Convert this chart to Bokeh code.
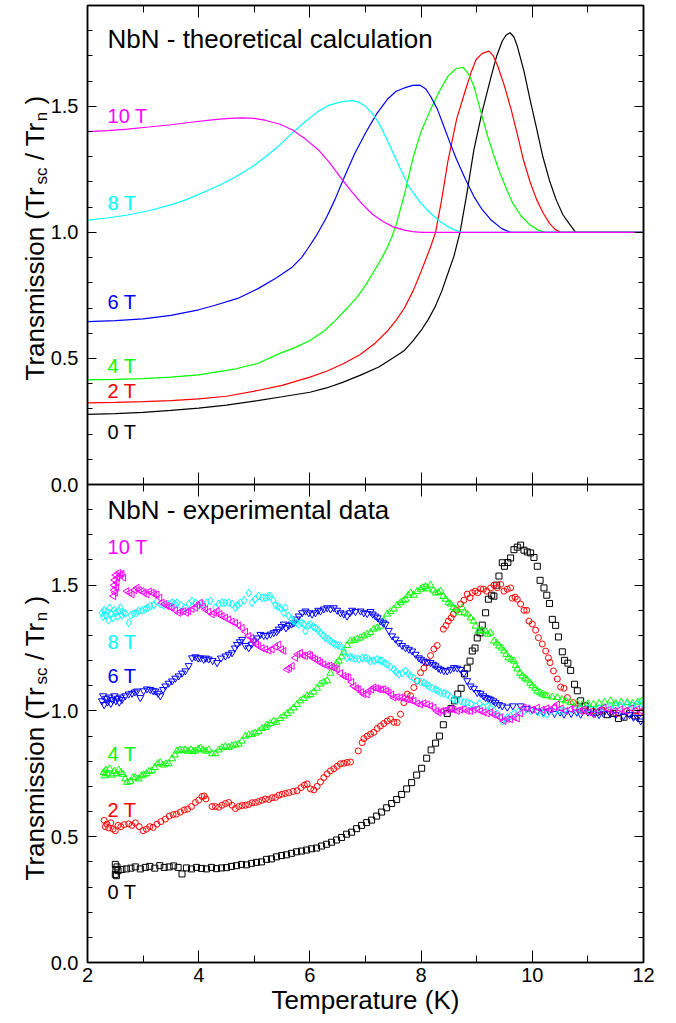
import math
from bokeh.plotting import figure
from bokeh.models import (Range1d, LinearAxis, SingleIntervalTicker,
                          PrintfTickFormatter, CustomJSTickFormatter, Label)
from bokeh.layouts import column
from bokeh.embed import file_html
from bokeh.resources import INLINE
from bokeh.core.properties import value

FONT = "Liberation Sans"

# ---------------- data: theoretical calculation (top panel) ----------------
th0_x = [2.0, 2.5, 3.0, 3.5, 4.0, 4.5, 5.06, 5.5, 6.0, 6.3, 6.6, 6.9, 7.24, 7.5, 7.7, 7.85, 8.0, 8.13, 8.25, 8.37,
         8.48, 8.59, 8.70, 8.82, 8.95, 9.1, 9.26, 9.36, 9.46, 9.53, 9.60, 9.67, 9.73, 9.85, 9.96, 10.08, 10.19,
         10.31, 10.43, 10.55, 10.66, 10.78, 11.0, 11.5, 12.0]
th0_y = [0.278, 0.281, 0.286, 0.294, 0.303, 0.315, 0.333, 0.348, 0.366, 0.383, 0.406, 0.433, 0.466, 0.503, 0.532,
         0.569, 0.611, 0.655, 0.704, 0.766, 0.836, 0.905, 1.0, 1.15, 1.328, 1.48, 1.619, 1.70, 1.759, 1.783,
         1.792, 1.775, 1.739, 1.64, 1.527, 1.41, 1.30, 1.205, 1.129, 1.07, 1.036, 1.0, 1.0, 1.0, 1.0]

th2_x = [2.0, 2.5, 3.0, 3.5, 4.0, 4.5, 5.06, 5.5, 6.0, 6.3, 6.6, 6.9, 7.16, 7.4, 7.55, 7.7, 7.86, 8.0, 8.17, 8.26,
         8.37, 8.48, 8.64, 8.80, 8.90, 8.99, 9.1, 9.22, 9.30, 9.38, 9.50, 9.62, 9.73, 9.84, 9.96, 10.08, 10.2,
         10.31, 10.41, 10.51, 11.0, 11.5, 12.0]
th2_y = [0.324, 0.326, 0.329, 0.333, 0.340, 0.350, 0.373, 0.393, 0.426, 0.449, 0.479, 0.515, 0.558, 0.61, 0.651,
         0.70, 0.770, 0.845, 0.942, 1.0, 1.13, 1.28, 1.45, 1.566, 1.635, 1.686, 1.71, 1.719, 1.70, 1.659, 1.58,
         1.487, 1.39, 1.288, 1.20, 1.129, 1.075, 1.036, 1.012, 1.0, 1.0, 1.0, 1.0]

th4_x = [2.0, 2.5, 3.0, 3.5, 4.0, 4.67, 5.06, 5.45, 5.75, 6.0, 6.25, 6.46, 6.65, 6.85, 7.0, 7.16, 7.28, 7.39, 7.47,
         7.55, 7.7, 7.86, 8.0, 8.17, 8.33, 8.48, 8.62, 8.75, 8.85, 8.95, 9.06, 9.18, 9.30, 9.42, 9.54, 9.65, 9.8,
         9.96, 10.1, 10.23, 11.0, 12.0]
th4_y = [0.415, 0.417, 0.420, 0.426, 0.435, 0.459, 0.48, 0.519, 0.545, 0.571, 0.608, 0.651, 0.695, 0.743, 0.79,
         0.849, 0.893, 0.94, 0.98, 1.03, 1.15, 1.30, 1.40, 1.487, 1.56, 1.619, 1.648, 1.655, 1.63, 1.580, 1.49,
         1.394, 1.31, 1.235, 1.17, 1.115, 1.065, 1.029, 1.01, 1.0, 1.0, 1.0]

th6_x = [2.0, 2.5, 3.0, 3.5, 4.0, 4.28, 4.7, 5.06, 5.4, 5.68, 5.85, 5.96, 6.11, 6.30, 6.45, 6.61, 6.8, 7.0, 7.2,
         7.39, 7.55, 7.70, 7.85, 7.98, 8.08, 8.17, 8.29, 8.41, 8.52, 8.64, 8.8, 8.95, 9.1, 9.26, 9.45, 9.61, 10.0,
         11.0, 12.0]
th6_y = [0.646, 0.650, 0.657, 0.671, 0.693, 0.710, 0.738, 0.776, 0.82, 0.862, 0.90, 0.935, 0.985, 1.06, 1.13,
         1.215, 1.31, 1.394, 1.47, 1.527, 1.56, 1.573, 1.583, 1.584, 1.57, 1.540, 1.49, 1.420, 1.355, 1.288, 1.21,
         1.142, 1.09, 1.049, 1.015, 1.0, 1.0, 1.0, 1.0]

th8_x = [2.0, 2.35, 2.72, 3.1, 3.5, 3.8, 4.12, 4.4, 4.67, 4.95, 5.21, 5.45, 5.68, 5.92, 6.15, 6.35, 6.54, 6.66,
         6.77, 6.88, 7.0, 7.12, 7.24, 7.35, 7.47, 7.62, 7.78, 7.98, 8.17, 8.33, 8.48, 8.62, 8.75, 10.0, 12.0]
th8_y = [1.049, 1.057, 1.069, 1.086, 1.109, 1.132, 1.162, 1.19, 1.221, 1.258, 1.301, 1.345, 1.394, 1.44, 1.480,
         1.505, 1.517, 1.521, 1.523, 1.517, 1.50, 1.473, 1.434, 1.385, 1.328, 1.255, 1.182, 1.12, 1.076, 1.045,
         1.023, 1.008, 1.0, 1.0, 1.0]

th10_x = [2.0, 2.36, 2.72, 3.1, 3.5, 3.9, 4.28, 4.55, 4.79, 5.0, 5.21, 5.45, 5.68, 5.92, 6.15, 6.35, 6.54, 6.74,
          6.93, 7.12, 7.32, 7.5, 7.70, 7.85, 8.01, 10.0, 12.0]
th10_y = [1.40, 1.404, 1.41, 1.418, 1.427, 1.438, 1.447, 1.452, 1.454, 1.452, 1.444, 1.43, 1.407, 1.37, 1.328,
          1.278, 1.221, 1.165, 1.115, 1.073, 1.042, 1.022, 1.009, 1.003, 1.0, 1.0, 1.0]

# ---------------- data: experimental (bottom panel), (T, transmission) ----------------
exp0 = [(2.50, 0.35), (2.50, 0.39), (2.51, 0.37), (2.52, 0.345), (2.53, 0.38), (2.55, 0.365), (2.62, 0.37),
        (2.70, 0.372), (2.78, 0.375), (2.86, 0.38), (2.95, 0.372), (3.04, 0.378), (3.12, 0.382), (3.21, 0.375),
        (3.30, 0.385), (3.38, 0.378), (3.47, 0.38), (3.55, 0.384), (3.63, 0.378), (3.70, 0.352), (3.78, 0.376),
        (3.87, 0.372), (3.96, 0.378), (4.05, 0.374), (4.14, 0.372), (4.23, 0.378), (4.32, 0.373), (4.41, 0.376),
        (4.50, 0.377), (4.59, 0.382), (4.68, 0.385), (4.77, 0.39), (4.86, 0.388), (4.95, 0.394), (5.04, 0.398),
        (5.13, 0.40), (5.22, 0.41), (5.31, 0.412), (5.40, 0.42), (5.49, 0.425), (5.58, 0.428), (5.67, 0.434),
        (5.76, 0.44), (5.85, 0.443), (5.94, 0.447), (6.03, 0.452), (6.12, 0.455), (6.21, 0.463), (6.30, 0.47),
        (6.39, 0.478), (6.48, 0.487), (6.57, 0.497), (6.66, 0.51), (6.75, 0.518), (6.84, 0.532), (6.93, 0.545),
        (7.02, 0.556), (7.11, 0.566), (7.20, 0.582), (7.29, 0.598), (7.38, 0.615), (7.47, 0.632), (7.56, 0.648),
        (7.65, 0.668), (7.74, 0.69), (7.83, 0.715), (7.92, 0.745), (8.01, 0.772), (8.10, 0.812), (8.18, 0.845),
        (8.26, 0.872), (8.33, 0.90), (8.40, 0.945), (8.47, 0.99), (8.54, 1.01), (8.60, 1.04), (8.66, 1.067),
        (8.72, 1.09), (8.78, 1.147), (8.83, 1.17), (8.88, 1.198), (8.92, 1.238), (8.97, 1.25), (9.01, 1.29),
        (9.06, 1.31), (9.10, 1.341), (9.16, 1.39), (9.21, 1.444), (9.27, 1.46), (9.31, 1.456), (9.36, 1.50),
        (9.40, 1.536), (9.46, 1.589), (9.50, 1.575), (9.56, 1.59), (9.61, 1.608), (9.67, 1.641), (9.73, 1.651),
        (9.79, 1.659), (9.85, 1.639), (9.91, 1.632), (9.97, 1.628), (10.03, 1.61), (10.09, 1.575), (10.14, 1.519),
        (10.21, 1.489), (10.26, 1.46), (10.31, 1.427), (10.36, 1.364), (10.42, 1.34), (10.47, 1.294),
        (10.54, 1.235), (10.58, 1.201), (10.64, 1.19), (10.69, 1.161), (10.76, 1.106), (10.81, 1.08),
        (10.87, 1.04), (10.95, 1.02), (11.05, 1.005), (11.15, 0.995), (11.25, 1.0), (11.35, 0.985),
        (11.45, 0.99), (11.55, 0.97), (11.65, 0.975), (11.75, 0.99), (11.85, 0.98), (11.95, 0.97)]

exp2 = [(2.30, 0.565), (2.32, 0.54), (2.35, 0.55), (2.38, 0.535), (2.42, 0.555), (2.46, 0.53), (2.50, 0.524),
        (2.55, 0.545), (2.60, 0.54), (2.66, 0.548), (2.74, 0.551), (2.80, 0.545), (2.86, 0.555), (2.93, 0.54),
        (3.00, 0.524), (3.06, 0.53), (3.12, 0.54), (3.18, 0.537), (3.25, 0.55), (3.32, 0.56), (3.40, 0.57),
        (3.47, 0.582), (3.54, 0.588), (3.60, 0.59), (3.67, 0.598), (3.74, 0.606), (3.80, 0.61), (3.87, 0.62),
        (3.94, 0.636), (4.00, 0.645), (4.06, 0.66), (4.10, 0.662), (4.13, 0.65), (4.24, 0.62), (4.30, 0.62),
        (4.36, 0.617), (4.42, 0.625), (4.48, 0.632), (4.54, 0.636), (4.60, 0.625), (4.66, 0.612), (4.72, 0.62),
        (4.78, 0.624), (4.84, 0.625), (4.90, 0.628), (4.96, 0.635), (5.02, 0.636), (5.08, 0.64), (5.14, 0.645),
        (5.20, 0.65), (5.26, 0.648), (5.32, 0.655), (5.38, 0.656), (5.44, 0.665), (5.50, 0.669), (5.56, 0.672),
        (5.62, 0.675), (5.70, 0.68), (5.77, 0.683), (5.84, 0.695), (5.90, 0.705), (5.95, 0.71), (6.01, 0.69),
        (6.07, 0.686), (6.13, 0.70), (6.19, 0.718), (6.25, 0.735), (6.31, 0.75), (6.37, 0.762), (6.43, 0.77),
        (6.49, 0.78), (6.55, 0.79), (6.61, 0.792), (6.67, 0.795), (6.73, 0.797), (6.87, 0.841), (6.94, 0.874),
        (6.97, 0.89), (7.03, 0.90), (7.09, 0.908), (7.15, 0.915), (7.21, 0.93), (7.27, 0.94), (7.33, 0.95),
        (7.39, 0.96), (7.45, 0.967), (7.51, 0.955), (7.57, 0.954), (7.63, 0.987), (7.69, 1.033), (7.75, 1.067),
        (7.81, 1.06), (7.87, 1.093), (7.93, 1.12), (7.99, 1.152), (8.05, 1.17), (8.11, 1.192), (8.17, 1.22),
        (8.23, 1.246), (8.29, 1.26), (8.40, 1.325), (8.45, 1.34), (8.49, 1.357), (8.54, 1.37), (8.58, 1.385),
        (8.64, 1.40), (8.71, 1.425), (8.77, 1.44), (8.83, 1.464), (8.88, 1.45), (8.92, 1.47), (8.97, 1.476),
        (9.02, 1.47), (9.07, 1.485), (9.12, 1.484), (9.18, 1.476), (9.25, 1.489), (9.31, 1.50), (9.37, 1.49),
        (9.43, 1.503), (9.49, 1.476), (9.55, 1.484), (9.61, 1.489), (9.64, 1.448), (9.69, 1.452), (9.73, 1.444),
        (9.79, 1.425), (9.85, 1.40), (9.90, 1.40), (9.94, 1.357), (10.0, 1.345), (10.06, 1.321), (10.11, 1.291),
        (10.18, 1.266), (10.24, 1.238), (10.29, 1.211), (10.32, 1.192), (10.38, 1.159), (10.45, 1.127),
        (10.51, 1.095), (10.57, 1.09), (10.63, 1.053), (10.74, 1.033), (10.85, 1.01), (10.95, 1.0), (11.1, 1.0),
        (11.25, 1.005), (11.4, 0.995), (11.55, 0.99), (11.7, 1.0), (11.85, 1.0), (11.95, 0.995)]

exp4 = [(2.29, 0.755), (2.31, 0.742), (2.33, 0.765), (2.36, 0.75), (2.40, 0.77), (2.44, 0.745), (2.48, 0.76),
        (2.52, 0.75), (2.56, 0.765), (2.60, 0.755), (2.64, 0.748), (2.68, 0.73), (2.71, 0.716), (2.77, 0.72),
        (2.82, 0.735), (2.86, 0.735), (2.92, 0.73), (2.97, 0.742), (3.01, 0.746), (3.06, 0.75), (3.11, 0.76),
        (3.16, 0.762), (3.21, 0.775), (3.26, 0.79), (3.31, 0.795), (3.36, 0.785), (3.41, 0.79), (3.46, 0.79),
        (3.52, 0.81), (3.57, 0.825), (3.61, 0.841), (3.66, 0.845), (3.71, 0.842), (3.76, 0.845), (3.81, 0.84),
        (3.86, 0.845), (3.90, 0.838), (3.94, 0.841), (3.99, 0.848), (4.03, 0.852), (4.08, 0.845), (4.13, 0.84),
        (4.18, 0.845), (4.24, 0.83), (4.30, 0.83), (4.36, 0.845), (4.42, 0.854), (4.48, 0.858), (4.54, 0.855),
        (4.60, 0.861), (4.66, 0.865), (4.72, 0.868), (4.78, 0.88), (4.84, 0.90), (4.90, 0.905), (4.96, 0.907),
        (5.02, 0.912), (5.08, 0.918), (5.14, 0.93), (5.20, 0.935), (5.23, 0.944), (5.29, 0.95), (5.35, 0.96),
        (5.40, 0.955), (5.47, 0.97), (5.53, 0.98), (5.59, 0.99), (5.65, 1.0), (5.71, 1.012), (5.77, 1.026),
        (5.83, 1.04), (5.89, 1.05), (5.95, 1.06), (6.01, 1.065), (6.07, 1.075), (6.13, 1.09), (6.19, 1.107),
        (6.25, 1.115), (6.31, 1.12), (6.37, 1.15), (6.43, 1.172), (6.48, 1.19), (6.52, 1.198), (6.57, 1.215),
        (6.61, 1.231), (6.67, 1.26), (6.73, 1.278), (6.79, 1.28), (6.85, 1.286), (6.91, 1.29), (6.97, 1.298),
        (7.03, 1.305), (7.09, 1.312), (7.15, 1.325), (7.21, 1.33), (7.27, 1.337), (7.33, 1.36), (7.39, 1.385),
        (7.45, 1.395), (7.51, 1.405), (7.57, 1.42), (7.63, 1.43), (7.68, 1.438), (7.72, 1.444), (7.77, 1.46),
        (7.81, 1.469), (7.87, 1.46), (7.93, 1.475), (7.99, 1.484), (8.03, 1.49), (8.08, 1.494), (8.12, 1.485),
        (8.17, 1.50), (8.22, 1.48), (8.26, 1.469), (8.31, 1.47), (8.35, 1.476), (8.40, 1.455), (8.44, 1.444),
        (8.49, 1.43), (8.53, 1.425), (8.58, 1.41), (8.62, 1.405), (8.68, 1.39), (8.74, 1.41), (8.78, 1.39),
        (8.83, 1.385), (8.89, 1.37), (8.94, 1.357), (8.98, 1.337), (9.03, 1.317), (9.09, 1.32), (9.16, 1.317),
        (9.20, 1.305), (9.25, 1.31), (9.31, 1.278), (9.36, 1.27), (9.40, 1.258), (9.45, 1.25), (9.49, 1.238),
        (9.53, 1.225), (9.57, 1.211), (9.62, 1.205), (9.67, 1.198), (9.70, 1.18), (9.73, 1.167), (9.78, 1.15),
        (9.82, 1.139), (9.87, 1.13), (9.91, 1.123), (9.96, 1.11), (10.0, 1.10), (10.05, 1.09), (10.09, 1.079),
        (10.14, 1.072), (10.18, 1.067), (10.23, 1.062), (10.27, 1.06), (10.36, 1.055), (10.45, 1.053),
        (10.53, 1.045), (10.6, 1.04), (10.69, 1.033), (10.8, 1.03), (10.9, 1.025), (11.0, 1.028), (11.1, 1.026),
        (11.2, 1.03), (11.3, 1.035), (11.41, 1.04), (11.5, 1.03), (11.6, 1.035), (11.71, 1.033), (11.8, 1.03),
        (11.9, 1.035), (11.97, 1.04)]

exp6 = [(2.26, 1.04), (2.28, 1.06), (2.30, 1.025), (2.33, 1.05), (2.36, 1.035), (2.39, 1.055), (2.42, 1.03),
        (2.45, 1.045), (2.48, 1.06), (2.51, 1.04), (2.54, 1.05), (2.57, 1.035), (2.60, 1.055), (2.62, 1.045),
        (2.68, 1.06), (2.74, 1.067), (2.80, 1.07), (2.85, 1.075), (2.89, 1.079), (2.95, 1.053), (3.01, 1.08),
        (3.07, 1.087), (3.13, 1.085), (3.18, 1.08), (3.22, 1.079), (3.27, 1.07), (3.31, 1.06), (3.36, 1.085),
        (3.40, 1.099), (3.46, 1.11), (3.52, 1.119), (3.58, 1.13), (3.64, 1.139), (3.70, 1.15), (3.76, 1.159),
        (3.82, 1.18), (3.88, 1.211), (3.94, 1.215), (3.99, 1.21), (4.03, 1.211), (4.09, 1.205), (4.13, 1.21),
        (4.18, 1.206), (4.25, 1.2), (4.33, 1.192), (4.40, 1.21), (4.48, 1.218), (4.54, 1.225), (4.60, 1.231),
        (4.65, 1.25), (4.69, 1.264), (4.74, 1.275), (4.78, 1.284), (4.84, 1.26), (4.90, 1.251), (4.95, 1.265),
        (4.99, 1.278), (5.05, 1.29), (5.11, 1.304), (5.17, 1.30), (5.23, 1.30), (5.29, 1.305), (5.35, 1.311),
        (5.40, 1.315), (5.44, 1.325), (5.49, 1.335), (5.53, 1.345), (5.57, 1.33), (5.62, 1.34), (5.67, 1.345),
        (5.71, 1.35), (5.76, 1.365), (5.80, 1.377), (5.86, 1.39), (5.92, 1.397), (5.98, 1.39), (6.04, 1.385),
        (6.10, 1.39), (6.15, 1.40), (6.19, 1.397), (6.25, 1.405), (6.31, 1.41), (6.37, 1.405), (6.43, 1.41),
        (6.49, 1.40), (6.55, 1.39), (6.61, 1.385), (6.67, 1.377), (6.72, 1.39), (6.76, 1.40), (6.82, 1.395),
        (6.91, 1.397), (6.97, 1.39), (7.03, 1.387), (7.09, 1.395), (7.13, 1.385), (7.18, 1.377), (7.22, 1.37),
        (7.27, 1.357), (7.32, 1.35), (7.36, 1.345), (7.42, 1.32), (7.48, 1.298), (7.54, 1.285), (7.60, 1.271),
        (7.66, 1.26), (7.72, 1.251), (7.78, 1.245), (7.84, 1.238), (7.90, 1.225), (7.96, 1.211), (8.00, 1.205),
        (8.05, 1.198), (8.11, 1.195), (8.17, 1.192), (8.22, 1.185), (8.26, 1.179), (8.31, 1.17), (8.35, 1.165),
        (8.41, 1.16), (8.47, 1.159), (8.53, 1.165), (8.59, 1.172), (8.65, 1.17), (8.71, 1.165), (8.77, 1.15),
        (8.83, 1.12), (8.89, 1.099), (8.95, 1.09), (9.01, 1.073), (9.07, 1.07), (9.12, 1.06), (9.16, 1.053),
        (9.21, 1.05), (9.25, 1.046), (9.30, 1.04), (9.34, 1.033), (9.40, 1.025), (9.46, 1.02), (9.55, 1.015),
        (9.65, 1.02), (9.79, 1.02), (9.9, 1.01), (10.0, 1.005), (10.09, 1.0), (10.2, 0.995), (10.3, 1.0),
        (10.4, 0.99), (10.5, 0.995), (10.57, 0.987), (10.7, 0.99), (10.8, 0.995), (10.87, 0.987), (11.0, 0.995),
        (11.1, 0.99), (11.2, 0.985), (11.28, 0.99), (11.4, 0.99), (11.5, 0.985), (11.64, 0.98), (11.75, 0.985),
        (11.82, 0.975), (11.89, 0.974), (11.95, 0.96)]

exp8 = [(2.26, 1.39), (2.28, 1.375), (2.30, 1.40), (2.33, 1.38), (2.35, 1.395), (2.38, 1.36), (2.40, 1.41),
        (2.43, 1.385), (2.46, 1.37), (2.48, 1.40), (2.51, 1.39), (2.54, 1.375), (2.56, 1.40), (2.59, 1.41),
        (2.62, 1.38), (2.65, 1.39), (2.68, 1.387), (2.74, 1.35), (2.78, 1.38), (2.83, 1.387), (2.88, 1.39),
        (2.92, 1.397), (2.98, 1.40), (3.04, 1.404), (3.08, 1.41), (3.13, 1.417), (3.19, 1.42), (3.25, 1.437),
        (3.31, 1.425), (3.37, 1.42), (3.44, 1.425), (3.52, 1.43), (3.57, 1.425), (3.61, 1.43), (3.68, 1.42),
        (3.76, 1.41), (3.82, 1.425), (3.88, 1.437), (3.94, 1.43), (4.0, 1.42), (4.07, 1.425), (4.14, 1.43),
        (4.21, 1.437), (4.30, 1.41), (4.36, 1.425), (4.42, 1.43), (4.48, 1.43), (4.54, 1.43), (4.60, 1.425),
        (4.66, 1.41), (4.70, 1.42), (4.75, 1.43), (4.82, 1.44), (4.90, 1.469), (4.96, 1.43), (5.02, 1.445),
        (5.08, 1.456), (5.14, 1.45), (5.20, 1.45), (5.25, 1.455), (5.29, 1.456), (5.34, 1.44), (5.38, 1.42),
        (5.43, 1.415), (5.47, 1.41), (5.53, 1.39), (5.56, 1.41), (5.62, 1.377), (5.67, 1.365), (5.71, 1.357),
        (5.76, 1.35), (5.80, 1.344), (5.85, 1.35), (5.89, 1.344), (5.92, 1.317), (5.97, 1.34), (6.01, 1.344),
        (6.06, 1.335), (6.10, 1.33), (6.15, 1.32), (6.19, 1.311), (6.24, 1.30), (6.28, 1.291), (6.33, 1.285),
        (6.37, 1.278), (6.42, 1.27), (6.46, 1.264), (6.51, 1.26), (6.55, 1.258), (6.61, 1.238), (6.67, 1.211),
        (6.72, 1.215), (6.76, 1.211), (6.82, 1.208), (6.88, 1.205), (6.94, 1.21), (7.0, 1.211), (7.05, 1.205),
        (7.09, 1.198), (7.15, 1.20), (7.21, 1.205), (7.26, 1.2), (7.30, 1.198), (7.35, 1.19), (7.39, 1.185),
        (7.45, 1.175), (7.51, 1.165), (7.55, 1.155), (7.60, 1.146), (7.66, 1.15), (7.72, 1.159), (7.77, 1.148),
        (7.81, 1.139), (7.87, 1.13), (7.93, 1.119), (7.99, 1.115), (8.05, 1.112), (8.10, 1.105), (8.14, 1.099),
        (8.20, 1.09), (8.26, 1.086), (8.30, 1.08), (8.35, 1.073), (8.41, 1.07), (8.47, 1.066), (8.53, 1.055),
        (8.59, 1.046), (8.65, 1.043), (8.71, 1.04), (8.77, 1.035), (8.83, 1.033), (8.90, 1.028), (8.98, 1.02),
        (9.05, 1.03), (9.12, 1.015), (9.2, 1.02), (9.25, 1.013), (9.31, 1.0), (9.37, 0.987), (9.42, 0.975),
        (9.46, 0.96), (9.51, 0.965), (9.55, 0.974), (9.61, 0.98), (9.67, 0.99), (9.75, 0.995), (9.85, 1.0),
        (9.97, 1.0), (10.1, 0.995), (10.2, 0.99), (10.27, 0.987), (10.4, 0.995), (10.5, 1.0), (10.57, 1.0),
        (10.7, 1.005), (10.8, 1.0), (10.87, 1.007), (11.0, 1.01), (11.1, 1.005), (11.2, 1.01), (11.29, 1.013),
        (11.4, 1.015), (11.5, 1.02), (11.59, 1.02), (11.7, 1.025), (11.8, 1.02), (11.89, 1.026), (11.97, 1.03)]

exp10 = [(2.47, 1.456), (2.48, 1.48), (2.48, 1.50), (2.49, 1.52), (2.50, 1.47), (2.51, 1.54), (2.52, 1.49),
         (2.53, 1.51), (2.54, 1.53), (2.56, 1.549), (2.59, 1.54), (2.62, 1.545), (2.65, 1.53), (2.71, 1.476),
         (2.76, 1.47), (2.80, 1.463), (2.85, 1.48), (2.89, 1.489), (2.93, 1.48), (2.98, 1.476), (3.02, 1.47),
         (3.07, 1.463), (3.11, 1.475), (3.16, 1.47), (3.20, 1.465), (3.25, 1.463), (3.30, 1.45), (3.34, 1.43),
         (3.39, 1.425), (3.43, 1.417), (3.48, 1.415), (3.52, 1.41), (3.58, 1.40), (3.64, 1.39), (3.68, 1.395),
         (3.73, 1.397), (3.78, 1.39), (3.82, 1.397), (3.88, 1.405), (3.94, 1.41), (3.98, 1.42), (4.03, 1.43),
         (4.08, 1.415), (4.12, 1.404), (4.18, 1.395), (4.24, 1.384), (4.28, 1.39), (4.33, 1.397), (4.38, 1.385),
         (4.42, 1.377), (4.48, 1.37), (4.54, 1.364), (4.60, 1.355), (4.66, 1.35), (4.72, 1.34), (4.78, 1.33),
         (4.84, 1.315), (4.90, 1.298), (4.95, 1.29), (4.99, 1.278), (5.04, 1.265), (5.08, 1.258), (5.14, 1.25),
         (5.20, 1.245), (5.26, 1.24), (5.32, 1.245), (5.38, 1.255), (5.44, 1.264), (5.49, 1.245), (5.53, 1.238),
         (5.59, 1.165), (5.63, 1.17), (5.68, 1.179), (5.74, 1.211), (5.78, 1.225), (5.83, 1.231), (5.88, 1.22),
         (5.92, 1.218), (5.97, 1.225), (6.01, 1.22), (6.06, 1.21), (6.10, 1.205), (6.15, 1.2), (6.19, 1.192),
         (6.25, 1.185), (6.31, 1.179), (6.36, 1.18), (6.40, 1.175), (6.45, 1.17), (6.49, 1.165), (6.55, 1.15),
         (6.61, 1.139), (6.66, 1.135), (6.70, 1.132), (6.75, 1.115), (6.79, 1.099), (6.84, 1.09), (6.88, 1.086),
         (6.93, 1.075), (6.97, 1.066), (7.03, 1.066), (7.06, 1.079), (7.11, 1.085), (7.15, 1.093), (7.20, 1.09),
         (7.24, 1.086), (7.29, 1.085), (7.33, 1.086), (7.38, 1.08), (7.42, 1.073), (7.47, 1.065), (7.51, 1.053),
         (7.57, 1.055), (7.63, 1.053), (7.69, 1.05), (7.75, 1.046), (7.81, 1.043), (7.87, 1.04), (7.93, 1.03),
         (7.99, 1.026), (8.05, 1.03), (8.11, 1.026), (8.17, 1.02), (8.23, 1.013), (8.28, 1.0), (8.32, 0.993),
         (8.37, 1.0), (8.41, 1.0), (8.47, 1.005), (8.53, 1.007), (8.59, 1.005), (8.65, 1.0), (8.71, 1.005),
         (8.77, 1.007), (8.83, 1.0), (8.89, 1.0), (8.95, 1.005), (9.01, 1.007), (9.07, 1.0), (9.13, 0.995),
         (9.19, 0.99), (9.25, 0.995), (9.31, 0.985), (9.37, 0.98), (9.43, 0.975), (9.49, 0.96), (9.55, 0.968),
         (9.61, 0.967), (9.67, 0.975), (9.73, 0.97), (9.79, 0.99), (9.85, 1.013), (9.92, 1.01), (10.0, 1.005),
         (10.09, 1.013), (10.18, 1.005), (10.26, 1.01), (10.33, 1.007), (10.4, 1.015), (10.45, 1.026),
         (10.52, 1.01), (10.6, 1.0), (10.69, 1.007), (10.78, 1.01), (10.86, 1.0), (10.93, 1.007), (11.02, 0.995),
         (11.1, 0.987), (11.2, 1.0), (11.29, 1.013), (11.38, 1.005), (11.47, 1.0), (11.59, 1.007), (11.68, 1.0),
         (11.78, 1.01), (11.89, 1.007), (11.96, 1.0)]

field_labels = ["0 T", "2 T", "4 T", "6 T", "8 T", "10 T"]
colors = ["#000000", "#ff0000", "#00ff00", "#0000ff", "#00ffff", "#ff00ff"]
x_ticks_interval = 2
y_ticks_interval = 0.5

EMPTY = "return ''"
FRAME_W = 556
X0, X1, Y0, Y1 = 2.0, 12.0, 0.0, 1.9


def style_axes(p, bottom_labels):
    p.yaxis.ticker = SingleIntervalTicker(interval=y_ticks_interval, num_minor_ticks=5)
    p.yaxis.formatter = PrintfTickFormatter(format="%.1f")
    p.xaxis.ticker = SingleIntervalTicker(interval=x_ticks_interval, num_minor_ticks=2)
    p.add_layout(LinearAxis(ticker=SingleIntervalTicker(interval=x_ticks_interval, num_minor_ticks=2),
                            formatter=CustomJSTickFormatter(code=EMPTY)), "above")
    p.add_layout(LinearAxis(ticker=SingleIntervalTicker(interval=y_ticks_interval, num_minor_ticks=5),
                            formatter=CustomJSTickFormatter(code=EMPTY)), "right")
    for ax in p.axis:
        ax.axis_line_color = "black"
        ax.axis_line_width = 1.5
        ax.major_tick_line_color = "black"
        ax.minor_tick_line_color = "black"
        ax.major_tick_line_width = 1
        ax.minor_tick_line_width = 1
        ax.major_tick_out = 0
        ax.minor_tick_out = 0
        ax.major_label_text_font = FONT
        ax.major_label_text_color = "black"
        ax.major_label_text_font_size = "0px"
        ax.major_label_standoff = 0
    for ax in p.above + p.below:
        ax.major_tick_in = 12
        ax.minor_tick_in = 7
    for ax in p.left + p.right:
        ax.major_tick_in = 9
        ax.minor_tick_in = 5
    for ax in p.left:
        ax.major_label_text_font_size = "20px"
        ax.major_label_standoff = 9
    for ax in p.below:
        if bottom_labels:
            ax.major_label_text_font_size = "20px"
            ax.major_label_standoff = 5
            ax.axis_label = "Temperature (K)"
            ax.axis_label_text_font = FONT
            ax.axis_label_text_font_size = "26px"
            ax.axis_label_text_font_style = "normal"
            ax.axis_label_text_color = "black"
            ax.axis_label_standoff = 0
        else:
            ax.formatter = CustomJSTickFormatter(code=EMPTY)


def common(p):
    p.outline_line_color = "black"
    p.outline_line_width = 1.5
    p.xgrid.visible = False
    p.ygrid.visible = False
    p.border_fill_alpha = 0


xr = Range1d(X0, X1)

# ---------------- top panel ----------------
H1 = 479
p1 = figure(frame_width=FRAME_W, frame_height=H1, x_range=xr, y_range=Range1d(Y0, Y1),
            output_backend="svg", toolbar_location=None, tools="",
            min_border_left=87, min_border_right=20, min_border_top=5, min_border_bottom=12)
common(p1)
style_axes(p1, False)
for xs_, ys_, c in zip([th0_x, th2_x, th4_x, th6_x, th8_x, th10_x],
                       [th0_y, th2_y, th4_y, th6_y, th8_y, th10_y], colors):
    p1.line(xs_, ys_, line_color=c, line_width=1.2)

top_label_y = [0.21, 0.369, 0.472, 0.722, 1.118, 1.463]
for t, yy, c in zip(field_labels, top_label_y, colors):
    p1.add_layout(Label(x=2.36, y=yy, text=t, text_color=c, text_font=FONT, text_font_size="20px",
                        text_baseline="middle", text_align="left"))
p1.add_layout(Label(x=2.36, y=1.767, text="NbN - theoretical calculation", text_color="black", text_font=FONT,
                    text_font_size="26px", text_baseline="middle", text_align="left"))

# ---------------- bottom panel ----------------
H2 = 478
p2 = figure(frame_width=FRAME_W, frame_height=H2, x_range=xr, y_range=Range1d(Y0, Y1),
            output_backend="svg", toolbar_location=None, tools="",
            min_border_left=87, min_border_right=20, min_border_top=0, min_border_bottom=60)
common(p2)
p2.margin = (-12, 0, 0, 0)
style_axes(p2, True)

markers = ["square", "circle", "triangle", "inverted_triangle", "diamond", "triangle"]
sizes = [6, 6, 7, 7, 8, 7]
angles = [0, 0, 0, 0, 0, math.pi / 2]
for pts, c, m, s, a in zip([exp0, exp2, exp4, exp6, exp8, exp10], colors, markers, sizes, angles):
    p2.scatter([q[0] for q in pts], [q[1] for q in pts], marker=m, size=s, angle=a,
               fill_color=None, line_color=c, line_width=1)

bot_label_y = [0.279, 0.606, 0.828, 1.139, 1.274, 1.652]
for t, yy, c in zip(field_labels, bot_label_y, colors):
    p2.add_layout(Label(x=2.36, y=yy, text=t, text_color=c, text_font=FONT, text_font_size="20px",
                        text_baseline="middle", text_align="left"))
p2.add_layout(Label(x=2.36, y=1.80, text="NbN - experimental data", text_color="black", text_font=FONT,
                    text_font_size="26px", text_baseline="middle", text_align="left"))

# ---------------- transparent overlay carrying the rotated y-axis titles ----------------
TOTAL_H = (5 + H1 + 12) + (H2 + 60) - 12
BG_W = 660
ov = figure(width=BG_W, height=TOTAL_H, x_range=Range1d(0, BG_W), y_range=Range1d(0, TOTAL_H),
            output_backend="svg", toolbar_location=None, tools="", min_border=0,
            x_axis_location=None, y_axis_location=None)
ov.frame_align = False
ov.outline_line_color = None
ov.xgrid.visible = False
ov.ygrid.visible = False
ov.border_fill_alpha = 0
ov.background_fill_alpha = 0
ov.margin = (-TOTAL_H, 0, 0, 0)
# bottom end of each rotated title, in page pixels from the top
for start in (380, 880):
    y0 = TOTAL_H - start
    ov.text(x=[34, 34, 34], y=[y0, y0 + 220.2, y0 + 275.9], text=["Transmission (Tr", "/ Tr", ")"],
            angle=math.pi / 2, text_font=value(FONT), text_font_size=value("26px"), text_color="black",
            text_baseline="alphabetic", text_align="left")
    ov.text(x=[41, 41], y=[y0 + 196.0, y0 + 259.2], text=["sc", "n"],
            angle=math.pi / 2, text_font=value(FONT), text_font_size=value("17px"), text_color="black",
            text_baseline="alphabetic", text_align="left")

layout = column(p1, p2, ov, spacing=0)
open("out.html", "w").write(file_html(layout, INLINE))
